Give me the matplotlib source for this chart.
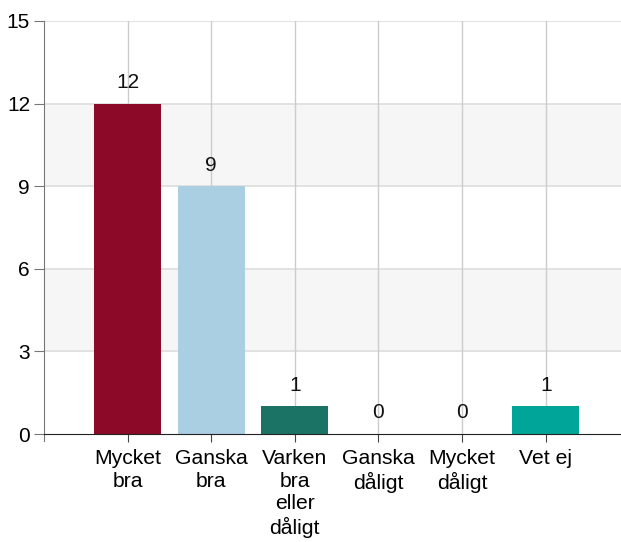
import matplotlib.pyplot as plt
from matplotlib.patches import Rectangle

plt.rcParams['font.family'] = ['Liberation Sans', 'DejaVu Sans']

categories = ['Mycket\nbra', 'Ganska\nbra', 'Varken\nbra\neller\ndåligt', 'Ganska\ndåligt', 'Mycket\ndåligt', 'Vet ej']
values = [12, 9, 1, 0, 0, 1]
colors = ['#8c0a28', '#abcfe2', '#1b7366', '#3a8f7f', '#6fb0a5', '#00a59a']
yticks = [0, 3, 6, 9, 12, 15]

fig = plt.figure(figsize=(6.21, 5.42), dpi=100)
ax = fig.add_axes([44 / 621, 108 / 542, 577 / 621, 413 / 542])

x = list(range(len(categories)))
ax.set_xlim(-1, 5.9)
ax.set_ylim(0, 15)

# grey bands and grid
for lo in (3, 9):
    ax.add_patch(Rectangle((-1, lo), 7, 3, facecolor='#f6f6f6', edgecolor='none', zorder=0))
for yv in yticks[1:]:
    ax.axhline(yv, color='#dddddd', lw=1.2, zorder=1)
for xv in x:
    ax.axvline(xv, color='#cccccc', lw=1.0, zorder=1)

bars = ax.bar(x, values, width=0.8, color=colors, zorder=2)
for xi, v in zip(x, values):
    ax.text(xi, v + 0.42, str(v), ha='center', va='bottom', fontsize=15, color='#111111', zorder=3)

ax.set_xticks(x)
ax.set_xticklabels(categories, fontsize=15.2, linespacing=1.22)
ax.set_yticks(yticks)
ax.set_yticklabels([str(t) for t in yticks], fontsize=15)

for s in ['top', 'right']:
    ax.spines[s].set_visible(False)
ax.spines['left'].set_color('#777777')
ax.spines['left'].set_bounds(-0.25, 15)
ax.spines['bottom'].set_color('#222222')
ax.tick_params(axis='y', length=7, color='#777777', pad=3)
ax.tick_params(axis='x', length=6, color='#444444', pad=5)

fig.savefig('out.png', dpi=100)
